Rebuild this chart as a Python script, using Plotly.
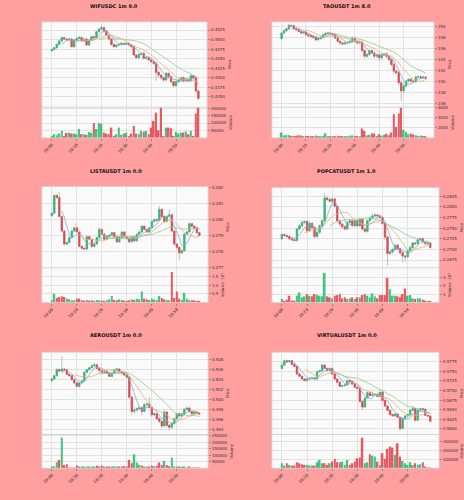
import plotly.graph_objects as go
import pandas as pd

W, H = 464, 500

# ---------------- data ----------------
time_labels = ["10:00", "10:10", "10:20", "10:30", "10:40", "10:50"]
time_ticks = [0, 10, 20, 30, 40, 50]
mav_windows = [5, 10, 20]

# WIFUSDC
wif_title = "WIFUSDC 1m 9.0"
wif_first_open = 0.44710
wif_close = [0.44745, 0.44788, 0.44875, 0.44963, 0.45050, 0.45015, 0.44989, 0.45015, 0.44815, 0.44989,
             0.45032, 0.45058, 0.44963, 0.45015, 0.44858, 0.44989, 0.45076, 0.45050, 0.45206, 0.45276,
             0.45311, 0.45224, 0.45119, 0.45015, 0.44875, 0.44815, 0.44858, 0.44875, 0.44902, 0.44884,
             0.44902, 0.44858, 0.44815, 0.44597, 0.44527, 0.44614, 0.44640, 0.44510, 0.44527, 0.44466,
             0.44423, 0.44379, 0.44144, 0.44074, 0.44004, 0.43944, 0.44118, 0.44031, 0.43900, 0.43795,
             0.43900, 0.43944, 0.44004, 0.43917, 0.43970, 0.43917, 0.44057, 0.44004, 0.43656, 0.43464]
wif_wick_unit = 1e-4
wif_wick_hi = [2, 2, 3, 2, 3, 2, 3, 2, 3, 2, 2, 3, 2, 2, 3, 2, 3, 2, 2, 3,
               5, 2, 2, 3, 2, 3, 2, 2, 3, 2, 2, 3, 2, 4, 2, 3, 2, 3, 2, 2,
               3, 2, 4, 3, 2, 3, 4, 2, 3, 2, 3, 2, 2, 3, 2, 2, 3, 2, 2, 3]
wif_wick_lo = [2, 3, 2, 2, 3, 2, 2, 3, 2, 3, 2, 2, 3, 2, 2, 3, 2, 2, 3, 2,
               2, 3, 2, 3, 3, 2, 3, 2, 2, 3, 2, 2, 3, 3, 3, 2, 3, 2, 3, 3,
               3, 4, 22, 6, 5, 6, 3, 5, 4, 3, 3, 4, 3, 3, 4, 3, 3, 3, 5, 4]
wif_volume = [13450, 24660, 17900, 29100, 47000, 6700, 33600, 35900, 30000, 29100,
              24700, 60500, 24700, 24700, 20200, 40000, 35000, 100000, 60000, 100000,
              95000, 35900, 29100, 24700, 69500, 13500, 24700, 69500, 20200, 29100,
              35900, 13500, 29100, 80700, 29100, 24700, 47100, 40400, 47100, 24700,
              69500, 114300, 170400, 51600, 204000, 11200, 69500, 69500, 65000, 13500,
              40400, 29100, 35900, 35900, 42600, 24700, 47100, 13500, 163700, 205000]
wif_price_ticks = [0.4350, 0.4375, 0.4400, 0.4425, 0.4450, 0.4475, 0.4500, 0.4525]
wif_vol_ticks = [50000, 100000, 150000, 200000]
wif_vol_ticktext = ["50000", "100000", "150000", "200000"]

# TAOUSDT
tao_title = "TAOUSDT 1m 8.0"
tao_first_open = 247.74
tao_close = [248.75, 249.17, 249.52, 250.12, 250.06, 249.52, 249.35, 249.05, 248.75, 248.93,
             248.45, 248.27, 248.15, 247.98, 247.56, 247.74, 247.98, 248.45, 248.69, 248.75,
             248.57, 248.45, 247.86, 247.26, 246.96, 246.79, 246.96, 247.08, 247.26, 247.86,
             247.26, 246.96, 247.14, 245.60, 244.58, 244.88, 245.60, 245.18, 244.58, 244.76,
             244.29, 244.88, 245.00, 244.58, 243.99, 243.10, 241.90, 241.61, 239.82, 238.33,
             239.23, 240.12, 240.42, 240.12, 240.00, 240.83, 240.89, 240.71, 240.83, 240.60]
tao_wick_unit = 0.1
tao_wick_hi = [2, 3, 2, 3, 2, 2, 2, 2, 2, 2, 2, 2, 2, 2, 2, 2, 2, 2, 2, 2,
               2, 2, 2, 2, 2, 2, 3, 2, 2, 3, 2, 2, 2, 3, 2, 3, 2, 2, 3, 2,
               3, 2, 2, 3, 2, 2, 3, 2, 2, 3, 3, 2, 3, 2, 2, 3, 2, 2, 2, 2]
tao_wick_lo = [2, 2, 2, 2, 2, 2, 2, 2, 2, 2, 2, 2, 2, 2, 3, 2, 2, 2, 2, 2,
               2, 2, 2, 2, 3, 2, 2, 2, 2, 2, 2, 2, 2, 3, 4, 3, 2, 2, 4, 3,
               5, 2, 2, 3, 3, 3, 5, 3, 6, 18, 4, 3, 2, 3, 3, 2, 2, 2, 2, 2]
tao_volume = [1070, 500, 560, 560, 400, 400, 200, 530, 470, 300,
              250, 400, 350, 200, 470, 300, 250, 330, 930, 300,
              250, 330, 200, 400, 350, 250, 300, 300, 450, 500,
              350, 400, 330, 1870, 1400, 500, 600, 930, 870, 400,
              730, 450, 600, 800, 530, 1070, 4740, 2200, 4870, 6100,
              1600, 1200, 730, 870, 700, 530, 400, 450, 400, 350]
tao_price_ticks = [236, 238, 240, 242, 244, 246, 248, 250]
tao_vol_ticks = [2000, 4000, 6000]
tao_vol_ticktext = ["2000", "4000", "6000"]

# LISTAUSDT
lista_title = "LISTAUSDT 1m 0.0"
lista_first_open = 0.28022
lista_close = [0.28038, 0.28149, 0.28135, 0.28018, 0.27927, 0.27846, 0.27856, 0.27886, 0.27927, 0.27947,
               0.27921, 0.27832, 0.27820, 0.27815, 0.27892, 0.27876, 0.27832, 0.27846, 0.27886, 0.27937,
               0.27907, 0.27876, 0.27892, 0.27900, 0.27917, 0.27892, 0.27860, 0.27886, 0.27921, 0.27892,
               0.27880, 0.27860, 0.27892, 0.27866, 0.27907, 0.27921, 0.27957, 0.27937, 0.27921, 0.27947,
               0.27987, 0.27998, 0.27994, 0.28062, 0.28018, 0.27987, 0.28018, 0.28028, 0.27927, 0.27846,
               0.27826, 0.27791, 0.27805, 0.27907, 0.27921, 0.27973, 0.27957, 0.27947, 0.27917, 0.27900]
lista_wick_unit = 1e-5
lista_wick_hi = [3, 5, 4, 35, 5, 4, 5, 6, 8, 6, 5, 4, 4, 5, 6, 5, 4, 5, 6, 12,
                 5, 5, 6, 5, 5, 4, 6, 5, 5, 4, 5, 5, 6, 5, 5, 4, 6, 5, 4, 6,
                 5, 8, 6, 20, 5, 6, 8, 35, 6, 5, 4, 4, 5, 6, 8, 10, 5, 5, 4, 4]
lista_wick_lo = [4, 4, 5, 5, 6, 8, 6, 5, 5, 5, 6, 6, 8, 5, 6, 5, 12, 8, 5, 5,
                 8, 10, 5, 5, 5, 6, 5, 5, 5, 6, 8, 10, 6, 5, 5, 6, 5, 5, 6, 5,
                 5, 5, 6, 5, 5, 6, 5, 5, 6, 8, 10, 45, 8, 6, 5, 5, 5, 5, 5, 4]
lista_volume = [13100, 50600, 26200, 31800, 35600, 31800, 22500, 18700, 13100, 13100,
                22500, 22500, 13100, 11200, 15000, 11200, 13100, 9400, 15000, 13100,
                11200, 9400, 13100, 18700, 37500, 15000, 13100, 18700, 15000, 11200,
                9400, 13100, 18700, 15000, 22500, 18700, 63700, 22500, 18700, 15000,
                22500, 18700, 13100, 37500, 26200, 18700, 15000, 13100, 176000, 26200,
                63700, 22500, 15000, 56200, 22500, 13100, 13100, 13100, 9400, 7500]
lista_price_ticks = [0.277, 0.278, 0.279, 0.280, 0.281, 0.282]
lista_vol_ticks = [50000, 100000, 150000]
lista_vol_ticktext = ["0.5", "1.0", "1.5"]

# POPCATUSDT
popcat_title = "POPCATUSDT 1m 1.0"
popcat_first_open = 0.27250
popcat_close = [0.27350, 0.27327, 0.27304, 0.27250, 0.27227, 0.27212, 0.27481, 0.27558, 0.27635, 0.27658,
                0.27442, 0.27612, 0.27519, 0.27304, 0.27404, 0.27558, 0.27673, 0.28212, 0.28173, 0.28135,
                0.28188, 0.28019, 0.27673, 0.27596, 0.27535, 0.27481, 0.27635, 0.27673, 0.27558, 0.27673,
                0.27558, 0.27712, 0.27481, 0.27427, 0.27673, 0.27735, 0.27789, 0.27812, 0.27789, 0.27750,
                0.27612, 0.27289, 0.26904, 0.26943, 0.26997, 0.27097, 0.27020, 0.26920, 0.26843, 0.26827,
                0.26966, 0.27043, 0.27150, 0.27135, 0.27227, 0.27250, 0.27173, 0.27135, 0.27150, 0.27043]
popcat_wick_unit = 1e-5
popcat_wick_hi = [30, 25, 20, 25, 20, 20, 30, 40, 60, 30, 30, 50, 30, 25, 30, 30, 40, 110, 30, 40,
                  30, 30, 30, 25, 30, 30, 40, 30, 25, 30, 30, 30, 25, 40, 30, 40, 60, 30, 25, 30,
                  30, 25, 40, 30, 30, 40, 25, 30, 25, 25, 30, 40, 30, 30, 40, 30, 30, 30, 25, 25]
popcat_wick_lo = [30, 25, 30, 25, 30, 30, 30, 25, 30, 30, 40, 30, 40, 40, 30, 30, 30, 30, 25, 30,
                  30, 30, 30, 40, 30, 30, 30, 40, 30, 30, 30, 30, 40, 30, 30, 25, 25, 25, 30, 30,
                  40, 60, 290, 40, 50, 30, 40, 50, 150, 120, 30, 30, 30, 30, 30, 30, 30, 30, 30, 25]
popcat_volume = [42400, 23100, 34700, 81000, 23100, 23100, 81000, 119500, 61700, 73200,
                 100000, 81000, 73200, 100000, 88600, 81000, 73200, 350700, 73200, 61700,
                 50100, 81000, 88600, 100000, 50100, 61700, 42400, 50100, 61700, 42400,
                 61700, 61700, 88600, 100000, 81000, 61700, 108000, 73200, 50100, 88600,
                 88600, 88600, 293000, 158000, 81000, 81000, 73200, 61700, 100000, 165700,
                 81000, 88600, 50100, 42400, 50100, 50100, 34700, 23100, 11600, 11600]
popcat_price_ticks = [0.2675, 0.2700, 0.2725, 0.2750, 0.2775, 0.2800, 0.2825]
popcat_vol_ticks = [100000, 200000, 300000]
popcat_vol_ticktext = ["1", "2", "3"]

# AEROUSDT
aero_title = "AEROUSDT 1m 0.0"
aero_first_open = 0.50380
aero_close = [0.50413, 0.50480, 0.50600, 0.50573, 0.50613, 0.50600, 0.50507, 0.50480, 0.50400, 0.50333,
              0.50267, 0.50333, 0.50373, 0.50547, 0.50600, 0.50640, 0.50680, 0.50700, 0.50627, 0.50587,
              0.50547, 0.50567, 0.50533, 0.50467, 0.50533, 0.50600, 0.50613, 0.50560, 0.50527, 0.50493,
              0.50447, 0.50047, 0.49760, 0.49787, 0.49813, 0.49833, 0.49760, 0.49893, 0.49907, 0.49840,
              0.49693, 0.49713, 0.49613, 0.49560, 0.49467, 0.49747, 0.49480, 0.49440, 0.49513, 0.49613,
              0.49713, 0.49667, 0.49713, 0.49800, 0.49827, 0.49760, 0.49713, 0.49747, 0.49720, 0.49707]
aero_wick_unit = 1e-5
aero_wick_hi = [20, 20, 30, 40, 267, 20, 20, 20, 20, 20, 20, 20, 20, 25, 20, 20, 20, 40, 20, 20,
                20, 20, 20, 20, 20, 20, 30, 20, 20, 20, 20, 20, 20, 60, 20, 30, 20, 40, 20, 140,
                20, 30, 20, 20, 20, 40, 20, 20, 20, 20, 20, 30, 20, 30, 40, 20, 20, 20, 20, 20]
aero_wick_lo = [20, 20, 20, 20, 20, 20, 20, 20, 20, 30, 20, 20, 20, 20, 20, 20, 20, 20, 20, 20,
                20, 20, 20, 20, 20, 20, 20, 20, 20, 20, 20, 30, 60, 40, 30, 20, 80, 20, 20, 20,
                40, 30, 30, 30, 50, 20, 40, 60, 30, 20, 20, 20, 20, 20, 20, 20, 20, 20, 20, 20]
aero_volume = [12800, 7700, 46000, 64000, 236000, 25600, 30800, 5100, 5100, 5100,
               20500, 12800, 10300, 12800, 7700, 7700, 10300, 7700, 20500, 10300,
               20500, 7700, 12800, 10300, 12800, 15400, 10300, 7700, 10300, 15400,
               12800, 64000, 38500, 107700, 43600, 25600, 20500, 12800, 7700, 10300,
               20500, 15400, 20500, 43600, 25600, 56400, 25600, 15400, 82000, 12800,
               10300, 12800, 7700, 10300, 5100, 7700, 5100, 5100, 5100, 2600]
aero_price_ticks = [0.494, 0.496, 0.498, 0.500, 0.502, 0.504, 0.506, 0.508]
aero_vol_ticks = [50000, 100000, 150000, 200000, 250000]
aero_vol_ticktext = ["50000", "100000", "150000", "200000", "250000"]

# VIRTUALUSDT
virtual_title = "VIRTUALUSDT 1m 0.0"
virtual_first_open = 0.57578
virtual_close = [0.57664, 0.57776, 0.57750, 0.57776, 0.57681, 0.57629, 0.57431, 0.57371, 0.57302, 0.57259,
                 0.57302, 0.57319, 0.57328, 0.57302, 0.57491, 0.57517, 0.57664, 0.57578, 0.57526, 0.57578,
                 0.57431, 0.57302, 0.57216, 0.57112, 0.57129, 0.57147, 0.57259, 0.57233, 0.57172, 0.57086,
                 0.57060, 0.56716, 0.56569, 0.56802, 0.56940, 0.56871, 0.56888, 0.56905, 0.56845, 0.56957,
                 0.56741, 0.56595, 0.56483, 0.56371, 0.56336, 0.56388, 0.56302, 0.56009, 0.56267, 0.56336,
                 0.56371, 0.56483, 0.56526, 0.56224, 0.56483, 0.56526, 0.56509, 0.56354, 0.56336, 0.56198]
virtual_wick_unit = 1e-5
virtual_wick_hi = [70, 30, 30, 25, 20, 20, 20, 20, 20, 20, 20, 20, 20, 20, 20, 30, 40, 20, 20, 20,
                   20, 20, 20, 20, 20, 25, 20, 20, 20, 20, 20, 20, 20, 20, 40, 20, 80, 20, 20, 20,
                   20, 20, 20, 20, 20, 20, 20, 20, 30, 20, 20, 40, 60, 20, 40, 20, 20, 20, 20, 20]
virtual_wick_lo = [20, 20, 20, 20, 20, 20, 20, 20, 20, 20, 20, 20, 20, 20, 20, 20, 20, 20, 20, 20,
                   20, 20, 20, 20, 20, 20, 20, 20, 20, 20, 20, 20, 80, 20, 30, 30, 20, 20, 20, 20,
                   20, 20, 20, 20, 20, 20, 20, 60, 20, 20, 20, 20, 20, 40, 20, 20, 20, 20, 20, 20]
virtual_volume = [55600, 29600, 55600, 37000, 29600, 29600, 66700, 55600, 44400, 37000,
                  37000, 29600, 29600, 29600, 66700, 92600, 55600, 55600, 37000, 55600,
                  74100, 103700, 66700, 66700, 74100, 37000, 92600, 37000, 55600, 74100,
                  111100, 118500, 340000, 55600, 66700, 155600, 140700, 129600, 74100, 37000,
                  166700, 103700, 214800, 240700, 229600, 148000, 277800, 129600, 81500, 55600,
                  37000, 66700, 37000, 55600, 37000, 44400, 66700, 18500, 7400, 7400]
virtual_price_ticks = [0.5600, 0.5625, 0.5650, 0.5675, 0.5700, 0.5725, 0.5750, 0.5775]
virtual_vol_ticks = [100000, 200000, 300000]
virtual_vol_ticktext = ["100000", "200000", "300000"]

panels = [
    dict(title=wif_title, o0=wif_first_open, close=wif_close, unit=wif_wick_unit, whi=wif_wick_hi,
         wlo=wif_wick_lo, vol=wif_volume, pt=wif_price_ticks, pfmt="{:.4f}", vt=wif_vol_ticks,
         vtt=wif_vol_ticktext, vtitle="Volume"),
    dict(title=tao_title, o0=tao_first_open, close=tao_close, unit=tao_wick_unit, whi=tao_wick_hi,
         wlo=tao_wick_lo, vol=tao_volume, pt=tao_price_ticks, pfmt="{:.0f}", vt=tao_vol_ticks,
         vtt=tao_vol_ticktext, vtitle="Volume"),
    dict(title=lista_title, o0=lista_first_open, close=lista_close, unit=lista_wick_unit, whi=lista_wick_hi,
         wlo=lista_wick_lo, vol=lista_volume, pt=lista_price_ticks, pfmt="{:.3f}", vt=lista_vol_ticks,
         vtt=lista_vol_ticktext, vtitle="Volume  10⁵"),
    dict(title=popcat_title, o0=popcat_first_open, close=popcat_close, unit=popcat_wick_unit, whi=popcat_wick_hi,
         wlo=popcat_wick_lo, vol=popcat_volume, pt=popcat_price_ticks, pfmt="{:.4f}", vt=popcat_vol_ticks,
         vtt=popcat_vol_ticktext, vtitle="Volume  10⁵"),
    dict(title=aero_title, o0=aero_first_open, close=aero_close, unit=aero_wick_unit, whi=aero_wick_hi,
         wlo=aero_wick_lo, vol=aero_volume, pt=aero_price_ticks, pfmt="{:.3f}", vt=aero_vol_ticks,
         vtt=aero_vol_ticktext, vtitle="Volume"),
    dict(title=virtual_title, o0=virtual_first_open, close=virtual_close, unit=virtual_wick_unit,
         whi=virtual_wick_hi, wlo=virtual_wick_lo, vol=virtual_volume, pt=virtual_price_ticks,
         pfmt="{:.4f}", vt=virtual_vol_ticks, vtt=virtual_vol_ticktext, vtitle="Volume"),
]

# ---------------- layout geometry (pixels) & styles ----------------
geoms = [
    dict(x0=42, x1=208, top=20, mid=106, bot=137, prange=[0.43233, 0.45465], vrange=[0, 207000], tx=114, ty=4),
    dict(x0=273, x1=436, top=20, mid=106, bot=137, prange=[235.41, 250.77], vrange=[0, 6150], tx=349, ty=4),
    dict(x0=42, x1=209, top=186, mid=268, bot=303, prange=[0.27698, 0.28204], vrange=[0, 200000], tx=116, ty=170),
    dict(x0=273, x1=441, top=187, mid=268, bot=303, prange=[0.26565, 0.28458], vrange=[0, 410000], tx=348, ty=170),
    dict(x0=42, x1=209, top=353, mid=436, bot=470, prange=[0.49294, 0.50954], vrange=[0, 260000], tx=116, ty=336),
    dict(x0=273, x1=441, top=353, mid=436, bot=470, prange=[0.55852, 0.58001], vrange=[0, 375000], tx=348, ty=336),
]

UP = "#2dbd75"
DOWN = "#e8474f"
WICK = "#9a9a9a"
MA_COLORS = ["#7fb0d8", "#f0ad74", "#8fca8f"]
BG = "#ff9f9f"
PLOT_BG = "#fafafa"
GRID = "#e2e2e2"
BORDER = "#cfcfcf"
FONT = "DejaVu Sans"


def fx(v):
    return v / W


def fy(v):
    return 1 - v / H


fig = go.Figure()
layout = dict(
    width=W, height=H, margin=dict(l=0, r=0, t=0, b=0, pad=0),
    paper_bgcolor=BG, plot_bgcolor=PLOT_BG, showlegend=False,
    font=dict(family=FONT, size=4, color="#333333"),
    boxmode="overlay", boxgap=0.2,
)
shapes = []
annotations = []

for k, (p, g) in enumerate(zip(panels, geoms)):
    n = k + 1
    xname = "x" if n == 1 else f"x{n}"
    xkey = "xaxis" if n == 1 else f"xaxis{n}"
    yp, yv = 2 * k + 1, 2 * k + 2
    ypname = "y" if yp == 1 else f"y{yp}"
    ypkey = "yaxis" if yp == 1 else f"yaxis{yp}"
    yvname = f"y{yv}"
    yvkey = f"yaxis{yv}"

    close = p["close"]
    idx = list(range(len(close)))
    opens = [p["o0"]] + close[:-1]
    highs = [max(o, c) + w * p["unit"] for o, c, w in zip(opens, close, p["whi"])]
    lows = [min(o, c) - w * p["unit"] for o, c, w in zip(opens, close, p["wlo"])]
    body_hi = [max(o, c) for o, c in zip(opens, close)]
    body_lo = [min(o, c) for o, c in zip(opens, close)]

    # wicks (grey)
    fig.add_trace(go.Candlestick(
        x=idx, open=opens, high=highs, low=lows, close=close,
        increasing=dict(line=dict(color=WICK, width=0.6), fillcolor=WICK),
        decreasing=dict(line=dict(color=WICK, width=0.6), fillcolor=WICK),
        whiskerwidth=0, xaxis=xname, yaxis=ypname, hoverinfo="skip"))
    # bodies (coloured)
    fig.add_trace(go.Candlestick(
        x=idx, open=opens, high=body_hi, low=body_lo, close=close,
        increasing=dict(line=dict(color=UP, width=0.5), fillcolor=UP),
        decreasing=dict(line=dict(color=DOWN, width=0.5), fillcolor=DOWN),
        whiskerwidth=0, xaxis=xname, yaxis=ypname, hoverinfo="skip"))

    s = pd.Series(close)
    for wnd, col in zip(mav_windows, MA_COLORS):
        ma = s.rolling(wnd).mean()
        fig.add_trace(go.Scatter(x=idx, y=ma, mode="lines", line=dict(color=col, width=0.8),
                                 xaxis=xname, yaxis=ypname, hoverinfo="skip"))

    vcolors = [UP if c >= o else DOWN for o, c in zip(opens, close)]
    fig.add_trace(go.Bar(x=idx, y=p["vol"], marker=dict(color=vcolors, line=dict(width=0)),
                         width=0.7, opacity=0.9, xaxis=xname, yaxis=yvname, hoverinfo="skip"))

    xd = [fx(g["x0"]), fx(g["x1"])]
    layout[xkey] = dict(
        domain=xd, anchor=yvname, range=[-4, 62.5],
        tickvals=time_ticks, ticktext=time_labels, tickangle=-45,
        tickfont=dict(size=4), ticks="outside", ticklen=2, tickcolor="#888",
        showgrid=True, gridcolor=GRID, gridwidth=0.6, zeroline=False,
        rangeslider=dict(visible=False), fixedrange=True,
    )
    layout[ypkey] = dict(
        domain=[fy(g["mid"]), fy(g["top"])], anchor=xname, side="right",
        range=g["prange"], tickvals=p["pt"], ticktext=[p["pfmt"].format(v) for v in p["pt"]],
        tickfont=dict(size=4), ticks="outside", ticklen=2, tickcolor="#888",
        showgrid=True, gridcolor=GRID, gridwidth=0.6, zeroline=False,
        title=dict(text="Price", font=dict(size=4), standoff=3),
    )
    layout[yvkey] = dict(
        domain=[fy(g["bot"]), fy(g["mid"])], anchor=xname, side="right",
        range=g["vrange"], tickvals=p["vt"], ticktext=p["vtt"],
        tickfont=dict(size=4), ticks="outside", ticklen=2, tickcolor="#888",
        showgrid=True, gridcolor=GRID, gridwidth=0.6, zeroline=False,
        title=dict(text=p["vtitle"], font=dict(size=4), standoff=3),
    )

    shapes.append(dict(type="rect", xref="paper", yref="paper", x0=xd[0], x1=xd[1],
                       y0=fy(g["bot"]), y1=fy(g["top"]), line=dict(color=BORDER, width=0.8),
                       layer="above"))
    shapes.append(dict(type="line", xref="paper", yref="paper", x0=xd[0], x1=xd[1],
                       y0=fy(g["mid"]), y1=fy(g["mid"]), line=dict(color=BORDER, width=0.8),
                       layer="above"))
    annotations.append(dict(text="<b>" + p["title"] + "</b>", xref="paper", yref="paper",
                            x=fx(g["tx"]), y=fy(g["ty"]), xanchor="center", yanchor="middle",
                            showarrow=False, font=dict(size=5, color="#111111", family=FONT)))

layout["shapes"] = shapes
layout["annotations"] = annotations
fig.update_layout(**layout)
fig.write_html("out.html")
